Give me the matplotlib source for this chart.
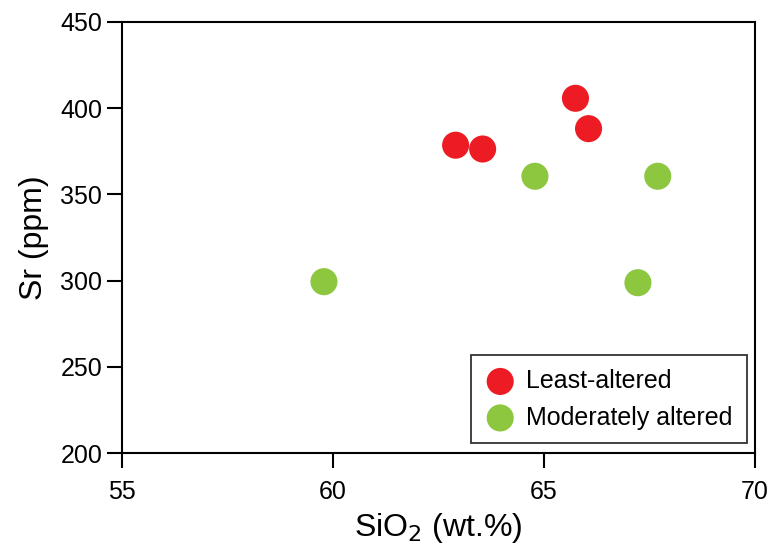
import matplotlib
matplotlib.use("Agg")
import matplotlib.pyplot as plt

plt.rcParams['font.family'] = ['Liberation Sans', 'DejaVu Sans']

# Least-altered samples
least_sio2 = [65.75, 66.06, 62.91, 63.55]
least_sr = [405.7, 388.1, 378.5, 376.3]

# Moderately altered samples
mod_sio2 = [64.79, 67.70, 59.79, 67.23]
mod_sr = [360.5, 360.5, 299.4, 298.8]

xticks = [55, 60, 65, 70]
yticks = [200, 250, 300, 350, 400, 450]

fig = plt.figure(figsize=(7.71, 5.46), dpi=100)
ax = fig.add_axes([0.158, 0.170, 0.821, 0.790])

ax.scatter(least_sio2, least_sr, s=380, color="#ED1C24", edgecolors="none",
           label="Least-altered", zorder=3)
ax.scatter(mod_sio2, mod_sr, s=380, color="#8DC63F", edgecolors="none",
           label="Moderately altered", zorder=3)

ax.set_xlim(55, 70)
ax.set_ylim(200, 450)
ax.set_xticks(xticks)
ax.set_yticks(yticks)
ax.tick_params(axis="both", direction="out", length=11, width=1.5,
               labelsize=18, colors="black", pad=3)
ax.tick_params(axis="x", pad=8)
for sp in ax.spines.values():
    sp.set_linewidth(1.5)

ax.set_xlabel("SiO$_2$ (wt.%)", fontsize=23, labelpad=5)
ax.set_ylabel("Sr (ppm)", fontsize=23, labelpad=8)

leg = ax.legend(loc="lower right", bbox_to_anchor=(0.987, 0.023), fontsize=18,
                frameon=True, fancybox=False, edgecolor="black",
                handletextpad=0.45, borderpad=0.55, labelspacing=0.5,
                handlelength=1.2, markerscale=1.0, borderaxespad=0)
leg.get_frame().set_linewidth(1.3)

fig.savefig("out.png", dpi=100)
